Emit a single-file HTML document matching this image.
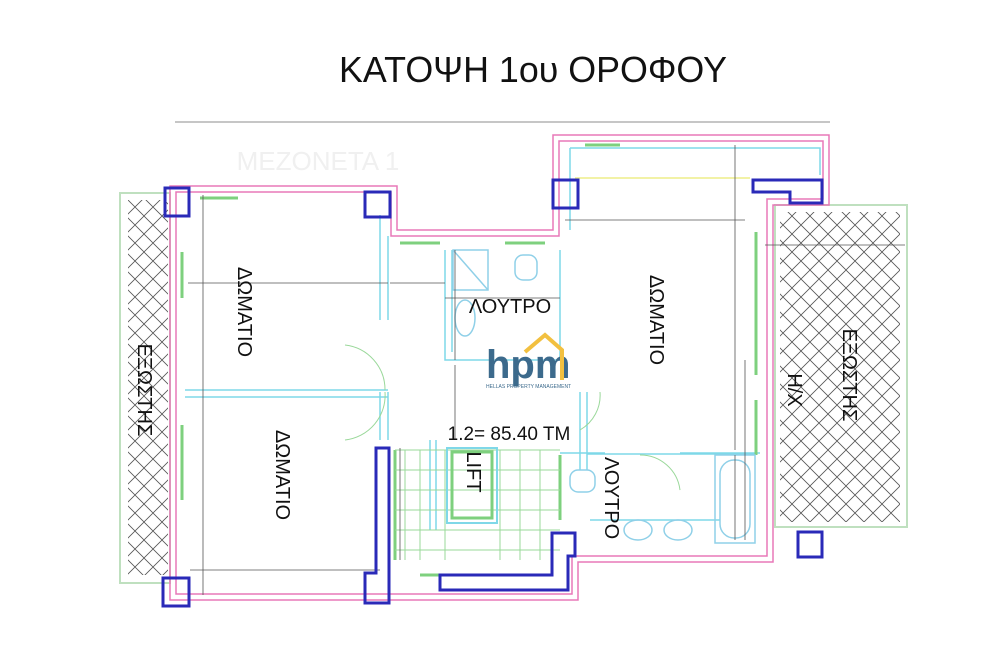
<!DOCTYPE html>
<html><head><meta charset="utf-8"><style>
html,body{margin:0;padding:0;background:#fff;width:1000px;height:667px;overflow:hidden}
svg{display:block}
text{font-family:"Liberation Sans","DejaVu Sans",sans-serif;fill:#111}
</style></head><body>
<svg width="1000" height="667" viewBox="0 0 1000 667" xmlns="http://www.w3.org/2000/svg">
<defs>
<pattern id="x" width="18" height="18" patternUnits="userSpaceOnUse">
<path d="M0 0L18 18M18 0L0 18" stroke="#555" stroke-width="0.8"/>
</pattern>
</defs>
<text x="533" y="82" font-size="36" text-anchor="middle" textLength="388" lengthAdjust="spacingAndGlyphs">ΚΑΤΟΨΗ 1ου ΟΡΟΦΟΥ</text>
<text x="318" y="170" font-size="26" text-anchor="middle" style="fill:#f0f0f0">MEZONETA 1</text>
<line x1="175" y1="122" x2="830" y2="122" stroke="#666" stroke-width="0.8"/>
<rect x="120" y="193" width="50" height="390" fill="none" stroke="#bfe0bf" stroke-width="2"/>
<rect x="128" y="200" width="40" height="375" fill="url(#x)"/>
<rect x="775" y="205" width="132" height="322" fill="none" stroke="#bfe0bf" stroke-width="2"/>
<rect x="780" y="212" width="120" height="310" fill="url(#x)"/>
<g fill="none" stroke="#e878b8" stroke-width="1.5">
<path d="M170 186H397V230H553V135H829V205H773V562H578V600H170Z"/>
<path d="M176 192H391V236H559V141H823V199H767V556H572V594H176Z"/>
</g>
<g fill="none" stroke="#7fd8e8" stroke-width="1.5">
<path d="M380 215V320M388 236V320M380 392V440M388 392V440"/>
<path d="M570 148H820V175M570 148V230"/>
<path d="M445 250V360H560V250M452 250V352"/>
<path d="M580 392V470M587 392V470M587 454H755"/>
<path d="M185 390H388M185 397H388"/>
<path d="M430 440V530M436 440V530"/>
<path d="M560 453H605M680 453H760"/>
<path d="M590 520H720"/>
</g>
<g fill="none" stroke="#7ed07e" stroke-width="3">
<path d="M200 198H238M400 243H440M505 243H545M585 145H620M182 252V298M182 425V500M756 232V375M756 400V455"/>
<path d="M395 450V560M560 455V520M420 575H440"/>
</g>
<g fill="none" stroke="#9ad89a" stroke-width="1">
<path d="M395 450H560M395 470H560M395 490H560M395 510H560M395 530H560M395 550H560"/>
<path d="M405 450V560M420 450V560M445 450V560M500 450V560M520 450V560M540 450V560"/>
<path d="M345 345A45 45 0 0 1 385 390M345 440A45 45 0 0 0 385 392"/>
<path d="M600 392A40 40 0 0 1 580 430M640 455A40 40 0 0 1 680 490"/>
</g>
<rect x="447" y="448" width="50" height="75" fill="none" stroke="#7fd8e8" stroke-width="2"/>
<rect x="452" y="452" width="40" height="66" fill="none" stroke="#7ed07e" stroke-width="3"/>
<g fill="none" stroke="#8fd0e8" stroke-width="1.5">
<rect x="453" y="250" width="35" height="40"/>
<path d="M453 250L488 290"/>
<ellipse cx="465" cy="318" rx="10" ry="18"/>
<rect x="515" y="255" width="22" height="25" rx="8"/>
<rect x="570" y="470" width="25" height="22" rx="8"/>
<ellipse cx="638" cy="530" rx="14" ry="10"/>
<ellipse cx="678" cy="530" rx="14" ry="10"/>
<rect x="715" y="455" width="40" height="88"/>
<rect x="720" y="460" width="30" height="78" rx="14"/>
<line x1="575" y1="178" x2="750" y2="178" stroke="#ee8" />
</g>
<g stroke="#555" stroke-width="0.8" fill="none">
<path d="M203 195V595M188 283H388M390 283H445M445 298H560M455 250V360M455 365V440M190 570H380"/>
<path d="M565 220H745M735 145V450M765 245H905M745 360V540M735 455V540"/>
<path d="M400 448V560"/>
</g>
<g fill="none" stroke="#2a2ab8" stroke-width="3">
<rect x="165" y="188" width="24" height="28"/>
<rect x="365" y="192" width="25" height="25"/>
<rect x="553" y="180" width="25" height="28"/>
<path d="M753 180H822V203H790V192H753Z"/>
<rect x="798" y="532" width="24" height="25"/>
<rect x="163" y="578" width="26" height="28"/>
<path d="M376 448H389V603H365V573H376Z"/>
<path d="M552 533H575V556H568V590H440V575H552Z"/>
</g>
<text x="486" y="378" font-size="40" style="fill:#3c6a8c" font-weight="bold">hpm</text>
<path d="M525 352L545 335L562 350V380" fill="none" stroke="#f2c040" stroke-width="4"/>
<text x="486" y="388" font-size="5" style="fill:#3c6a8c">HELLAS PROPERTY MANAGEMENT</text>
<g font-size="20">
<text transform="translate(238,312) rotate(90)" text-anchor="middle">ΔΩΜΑΤΙΟ</text>
<text transform="translate(276,475) rotate(90)" text-anchor="middle">ΔΩΜΑΤΙΟ</text>
<text transform="translate(138,390) rotate(90)" text-anchor="middle">ΕΞΩΣΤΗΣ</text>
<text x="510" y="313" text-anchor="middle">ΛΟΥΤΡΟ</text>
<text transform="translate(650,320) rotate(90)" text-anchor="middle">ΔΩΜΑΤΙΟ</text>
<text transform="translate(788,390) rotate(90)" text-anchor="middle">Η/Χ</text>
<text transform="translate(843,375) rotate(90)" text-anchor="middle">ΕΞΩΣΤΗΣ</text>
<text x="509" y="440" text-anchor="middle" font-size="19">1.2= 85.40 TM</text>
<text transform="translate(467,472) rotate(90)" text-anchor="middle">LIFT</text>
<text transform="translate(605,498) rotate(90)" text-anchor="middle">ΛΟΥΤΡΟ</text>
</g>
</svg>
</body></html>
